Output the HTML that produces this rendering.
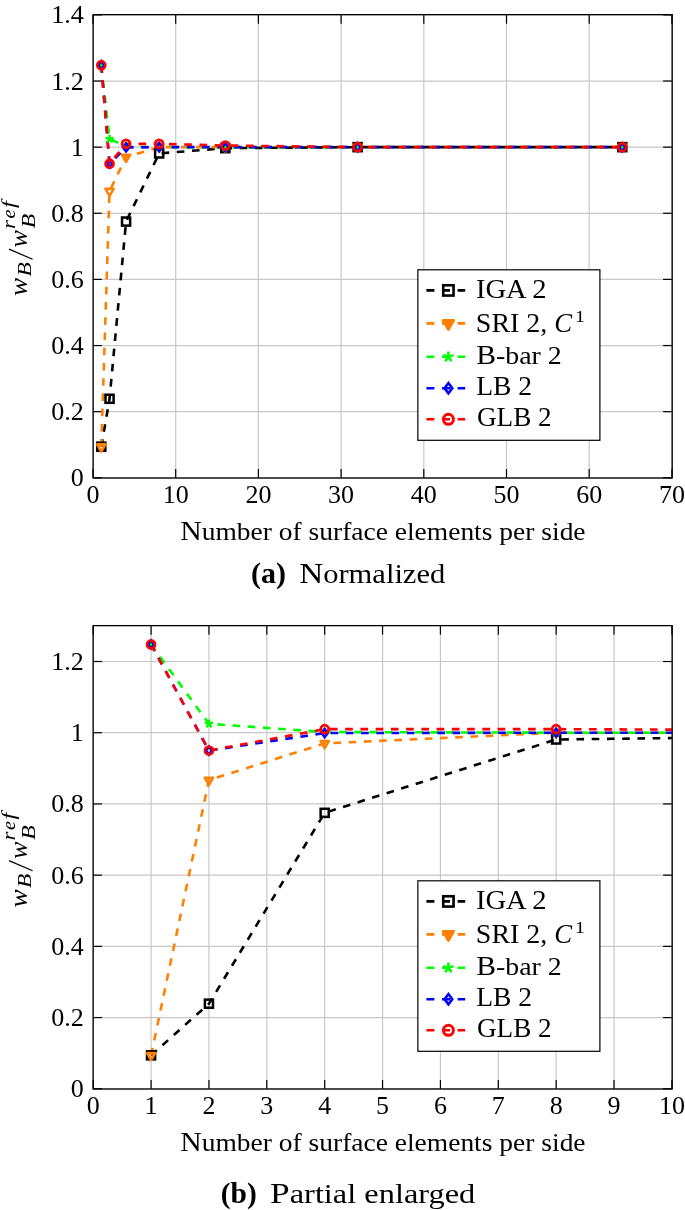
<!DOCTYPE html>
<html><head><meta charset="utf-8"><style>
html,body{margin:0;padding:0;background:#fff;width:685px;height:1210px;overflow:hidden}
svg{display:block;will-change:transform}
text{font-family:"Liberation Serif",serif}
</style></head><body>
<svg width="685" height="1210" viewBox="0 0 685 1210" font-family="Liberation Serif" fill="#000">
<defs><clipPath id="ca"><rect x="93.0" y="14.9" width="578.90" height="462.90"/></clipPath><clipPath id="cb"><rect x="93.2" y="625.9" width="578.70" height="462.90"/></clipPath></defs>
<line x1="93.00" y1="14.9" x2="93.00" y2="477.8" stroke="#c8c8c8" stroke-width="1.2"/>
<line x1="175.70" y1="14.9" x2="175.70" y2="477.8" stroke="#c8c8c8" stroke-width="1.2"/>
<line x1="258.40" y1="14.9" x2="258.40" y2="477.8" stroke="#c8c8c8" stroke-width="1.2"/>
<line x1="341.10" y1="14.9" x2="341.10" y2="477.8" stroke="#c8c8c8" stroke-width="1.2"/>
<line x1="423.80" y1="14.9" x2="423.80" y2="477.8" stroke="#c8c8c8" stroke-width="1.2"/>
<line x1="506.50" y1="14.9" x2="506.50" y2="477.8" stroke="#c8c8c8" stroke-width="1.2"/>
<line x1="589.20" y1="14.9" x2="589.20" y2="477.8" stroke="#c8c8c8" stroke-width="1.2"/>
<line x1="671.90" y1="14.9" x2="671.90" y2="477.8" stroke="#c8c8c8" stroke-width="1.2"/>
<line x1="93.0" y1="477.80" x2="671.9" y2="477.80" stroke="#c8c8c8" stroke-width="1.2"/>
<line x1="93.0" y1="411.67" x2="671.9" y2="411.67" stroke="#c8c8c8" stroke-width="1.2"/>
<line x1="93.0" y1="345.54" x2="671.9" y2="345.54" stroke="#c8c8c8" stroke-width="1.2"/>
<line x1="93.0" y1="279.41" x2="671.9" y2="279.41" stroke="#c8c8c8" stroke-width="1.2"/>
<line x1="93.0" y1="213.29" x2="671.9" y2="213.29" stroke="#c8c8c8" stroke-width="1.2"/>
<line x1="93.0" y1="147.16" x2="671.9" y2="147.16" stroke="#c8c8c8" stroke-width="1.2"/>
<line x1="93.0" y1="81.03" x2="671.9" y2="81.03" stroke="#c8c8c8" stroke-width="1.2"/>
<line x1="93.0" y1="14.90" x2="671.9" y2="14.90" stroke="#c8c8c8" stroke-width="1.2"/>
<line x1="93.00" y1="477.8" x2="93.00" y2="469.00" stroke="#000000" stroke-width="1.2"/>
<line x1="93.00" y1="14.9" x2="93.00" y2="23.70" stroke="#000000" stroke-width="1.2"/>
<line x1="175.70" y1="477.8" x2="175.70" y2="469.00" stroke="#000000" stroke-width="1.2"/>
<line x1="175.70" y1="14.9" x2="175.70" y2="23.70" stroke="#000000" stroke-width="1.2"/>
<line x1="258.40" y1="477.8" x2="258.40" y2="469.00" stroke="#000000" stroke-width="1.2"/>
<line x1="258.40" y1="14.9" x2="258.40" y2="23.70" stroke="#000000" stroke-width="1.2"/>
<line x1="341.10" y1="477.8" x2="341.10" y2="469.00" stroke="#000000" stroke-width="1.2"/>
<line x1="341.10" y1="14.9" x2="341.10" y2="23.70" stroke="#000000" stroke-width="1.2"/>
<line x1="423.80" y1="477.8" x2="423.80" y2="469.00" stroke="#000000" stroke-width="1.2"/>
<line x1="423.80" y1="14.9" x2="423.80" y2="23.70" stroke="#000000" stroke-width="1.2"/>
<line x1="506.50" y1="477.8" x2="506.50" y2="469.00" stroke="#000000" stroke-width="1.2"/>
<line x1="506.50" y1="14.9" x2="506.50" y2="23.70" stroke="#000000" stroke-width="1.2"/>
<line x1="589.20" y1="477.8" x2="589.20" y2="469.00" stroke="#000000" stroke-width="1.2"/>
<line x1="589.20" y1="14.9" x2="589.20" y2="23.70" stroke="#000000" stroke-width="1.2"/>
<line x1="671.90" y1="477.8" x2="671.90" y2="469.00" stroke="#000000" stroke-width="1.2"/>
<line x1="671.90" y1="14.9" x2="671.90" y2="23.70" stroke="#000000" stroke-width="1.2"/>
<line x1="93.0" y1="477.80" x2="101.80" y2="477.80" stroke="#000000" stroke-width="1.2"/>
<line x1="671.9" y1="477.80" x2="663.10" y2="477.80" stroke="#000000" stroke-width="1.2"/>
<line x1="93.0" y1="411.67" x2="101.80" y2="411.67" stroke="#000000" stroke-width="1.2"/>
<line x1="671.9" y1="411.67" x2="663.10" y2="411.67" stroke="#000000" stroke-width="1.2"/>
<line x1="93.0" y1="345.54" x2="101.80" y2="345.54" stroke="#000000" stroke-width="1.2"/>
<line x1="671.9" y1="345.54" x2="663.10" y2="345.54" stroke="#000000" stroke-width="1.2"/>
<line x1="93.0" y1="279.41" x2="101.80" y2="279.41" stroke="#000000" stroke-width="1.2"/>
<line x1="671.9" y1="279.41" x2="663.10" y2="279.41" stroke="#000000" stroke-width="1.2"/>
<line x1="93.0" y1="213.29" x2="101.80" y2="213.29" stroke="#000000" stroke-width="1.2"/>
<line x1="671.9" y1="213.29" x2="663.10" y2="213.29" stroke="#000000" stroke-width="1.2"/>
<line x1="93.0" y1="147.16" x2="101.80" y2="147.16" stroke="#000000" stroke-width="1.2"/>
<line x1="671.9" y1="147.16" x2="663.10" y2="147.16" stroke="#000000" stroke-width="1.2"/>
<line x1="93.0" y1="81.03" x2="101.80" y2="81.03" stroke="#000000" stroke-width="1.2"/>
<line x1="671.9" y1="81.03" x2="663.10" y2="81.03" stroke="#000000" stroke-width="1.2"/>
<line x1="93.0" y1="14.90" x2="101.80" y2="14.90" stroke="#000000" stroke-width="1.2"/>
<line x1="671.9" y1="14.90" x2="663.10" y2="14.90" stroke="#000000" stroke-width="1.2"/>
<g clip-path="url(#ca)">
<polyline points="101.27,446.72 109.54,398.78 126.08,221.55 159.16,153.44" fill="none" stroke="#000000" stroke-width="2.6" stroke-dasharray="7.62 7.62" stroke-dashoffset="0.00"/>
<polyline points="159.16,153.44 225.32,148.15" fill="none" stroke="#000000" stroke-width="2.6" stroke-dasharray="7.62 7.62" stroke-dashoffset="12.81"/>
<polyline points="225.32,148.15 357.64,147.16 622.28,147.16" fill="none" stroke="#000000" stroke-width="2.6" stroke-dasharray="7.62 7.62" stroke-dashoffset="0.94"/>
<polyline points="101.27,446.72 109.54,191.13 126.08,157.08 159.16,147.16" fill="none" stroke="#ff8000" stroke-width="2.6" stroke-dasharray="7.62 7.62" stroke-dashoffset="0.00"/>
<polyline points="159.16,147.16 225.32,147.16" fill="none" stroke="#ff8000" stroke-width="2.6" stroke-dasharray="7.62 7.62" stroke-dashoffset="8.64"/>
<polyline points="225.32,147.16 357.64,147.16 622.28,147.16" fill="none" stroke="#ff8000" stroke-width="2.6" stroke-dasharray="7.62 7.62" stroke-dashoffset="8.18"/>
<polyline points="101.27,65.16 109.54,138.89 126.08,146.50 159.16,147.16" fill="none" stroke="#00ff00" stroke-width="2.6" stroke-dasharray="7.62 7.62" stroke-dashoffset="0.00"/>
<polyline points="159.16,147.16 225.32,147.16" fill="none" stroke="#00ff00" stroke-width="2.6" stroke-dasharray="7.62 7.62" stroke-dashoffset="3.57"/>
<polyline points="225.32,147.16 357.64,147.16 622.28,147.16" fill="none" stroke="#00ff00" stroke-width="2.6" stroke-dasharray="7.62 7.62" stroke-dashoffset="8.18"/>
<polyline points="101.27,65.16 109.54,163.69 126.08,147.49 159.16,147.16" fill="none" stroke="#0000ff" stroke-width="2.6" stroke-dasharray="7.62 7.62" stroke-dashoffset="0.00"/>
<polyline points="159.16,147.16 225.32,147.16" fill="none" stroke="#0000ff" stroke-width="2.6" stroke-dasharray="7.62 7.62" stroke-dashoffset="2.71"/>
<polyline points="225.32,147.16 357.64,147.16 622.28,147.16" fill="none" stroke="#0000ff" stroke-width="2.6" stroke-dasharray="7.62 7.62" stroke-dashoffset="6.64"/>
<polyline points="101.27,65.16 109.54,163.69 126.08,143.85 159.16,143.85" fill="none" stroke="#ff0000" stroke-width="2.6" stroke-dasharray="7.62 7.62" stroke-dashoffset="0.00"/>
<polyline points="159.16,143.85 225.32,145.50" fill="none" stroke="#ff0000" stroke-width="2.6" stroke-dasharray="7.62 7.62" stroke-dashoffset="5.39"/>
<polyline points="225.32,145.50 357.64,147.16 622.28,147.16" fill="none" stroke="#ff0000" stroke-width="2.6" stroke-dasharray="7.62 7.62" stroke-dashoffset="9.83"/>
<rect x="97.22" y="442.67" width="8.10" height="8.10" fill="none" stroke="#000000" stroke-width="2.50"/>
<rect x="105.49" y="394.73" width="8.10" height="8.10" fill="none" stroke="#000000" stroke-width="2.50"/>
<rect x="122.03" y="217.50" width="8.10" height="8.10" fill="none" stroke="#000000" stroke-width="2.50"/>
<rect x="155.11" y="149.39" width="8.10" height="8.10" fill="none" stroke="#000000" stroke-width="2.50"/>
<rect x="221.27" y="144.10" width="8.10" height="8.10" fill="none" stroke="#000000" stroke-width="2.50"/>
<rect x="353.59" y="143.11" width="8.10" height="8.10" fill="none" stroke="#000000" stroke-width="2.50"/>
<rect x="618.23" y="143.11" width="8.10" height="8.10" fill="none" stroke="#000000" stroke-width="2.50"/>
<polygon points="101.27,451.58 97.06,444.29 105.48,444.29" fill="none" stroke="#ff8000" stroke-width="2.50" stroke-linejoin="round"/>
<polygon points="109.54,195.99 105.33,188.70 113.75,188.70" fill="none" stroke="#ff8000" stroke-width="2.50" stroke-linejoin="round"/>
<polygon points="126.08,161.94 121.87,154.65 130.29,154.65" fill="none" stroke="#ff8000" stroke-width="2.50" stroke-linejoin="round"/>
<polygon points="159.16,152.02 154.95,144.73 163.37,144.73" fill="none" stroke="#ff8000" stroke-width="2.50" stroke-linejoin="round"/>
<polygon points="225.32,152.02 221.11,144.73 229.53,144.73" fill="none" stroke="#ff8000" stroke-width="2.50" stroke-linejoin="round"/>
<polygon points="357.64,152.02 353.43,144.73 361.85,144.73" fill="none" stroke="#ff8000" stroke-width="2.50" stroke-linejoin="round"/>
<polygon points="622.28,152.02 618.07,144.73 626.49,144.73" fill="none" stroke="#ff8000" stroke-width="2.50" stroke-linejoin="round"/>
<path d="M101.27,65.16L101.27,60.91M101.27,65.16L97.23,63.84M101.27,65.16L98.77,68.60M101.27,65.16L103.77,68.60M101.27,65.16L105.31,63.84" stroke="#00ff00" stroke-width="2.50" fill="none"/>
<path d="M109.54,138.89L109.54,134.64M109.54,138.89L105.50,137.58M109.54,138.89L107.04,142.33M109.54,138.89L112.04,142.33M109.54,138.89L113.58,137.58" stroke="#00ff00" stroke-width="2.50" fill="none"/>
<path d="M126.08,146.50L126.08,142.24M126.08,146.50L122.04,145.18M126.08,146.50L123.58,149.94M126.08,146.50L128.58,149.94M126.08,146.50L130.12,145.18" stroke="#00ff00" stroke-width="2.50" fill="none"/>
<path d="M159.16,147.16L159.16,142.90M159.16,147.16L155.12,145.84M159.16,147.16L156.66,150.60M159.16,147.16L161.66,150.60M159.16,147.16L163.20,145.84" stroke="#00ff00" stroke-width="2.50" fill="none"/>
<path d="M225.32,147.16L225.32,142.90M225.32,147.16L221.28,145.84M225.32,147.16L222.82,150.60M225.32,147.16L227.82,150.60M225.32,147.16L229.36,145.84" stroke="#00ff00" stroke-width="2.50" fill="none"/>
<path d="M357.64,147.16L357.64,142.90M357.64,147.16L353.60,145.84M357.64,147.16L355.14,150.60M357.64,147.16L360.14,150.60M357.64,147.16L361.68,145.84" stroke="#00ff00" stroke-width="2.50" fill="none"/>
<path d="M622.28,147.16L622.28,142.90M622.28,147.16L618.24,145.84M622.28,147.16L619.78,150.60M622.28,147.16L624.78,150.60M622.28,147.16L626.32,145.84" stroke="#00ff00" stroke-width="2.50" fill="none"/>
<polygon points="101.27,61.11 104.31,65.16 101.27,69.21 98.23,65.16" fill="none" stroke="#0000ff" stroke-width="2.50"/>
<polygon points="109.54,159.64 112.58,163.69 109.54,167.74 106.50,163.69" fill="none" stroke="#0000ff" stroke-width="2.50"/>
<polygon points="126.08,143.44 129.12,147.49 126.08,151.54 123.04,147.49" fill="none" stroke="#0000ff" stroke-width="2.50"/>
<polygon points="159.16,143.11 162.20,147.16 159.16,151.21 156.12,147.16" fill="none" stroke="#0000ff" stroke-width="2.50"/>
<polygon points="225.32,143.11 228.36,147.16 225.32,151.21 222.28,147.16" fill="none" stroke="#0000ff" stroke-width="2.50"/>
<polygon points="357.64,143.11 360.68,147.16 357.64,151.21 354.60,147.16" fill="none" stroke="#0000ff" stroke-width="2.50"/>
<polygon points="622.28,143.11 625.32,147.16 622.28,151.21 619.24,147.16" fill="none" stroke="#0000ff" stroke-width="2.50"/>
<circle cx="101.27" cy="65.16" r="3.95" fill="none" stroke="#ff0000" stroke-width="2.80"/>
<circle cx="109.54" cy="163.69" r="3.95" fill="none" stroke="#ff0000" stroke-width="2.80"/>
<circle cx="126.08" cy="143.85" r="3.95" fill="none" stroke="#ff0000" stroke-width="2.80"/>
<circle cx="159.16" cy="143.85" r="3.95" fill="none" stroke="#ff0000" stroke-width="2.80"/>
<circle cx="225.32" cy="145.50" r="3.95" fill="none" stroke="#ff0000" stroke-width="2.80"/>
<circle cx="357.64" cy="147.16" r="3.95" fill="none" stroke="#ff0000" stroke-width="2.80"/>
<circle cx="622.28" cy="147.16" r="3.95" fill="none" stroke="#ff0000" stroke-width="2.80"/>
</g>
<rect x="93.15" y="14.64" width="579.05" height="463.36" fill="none" stroke="#000000" stroke-width="1.3"/>
<text x="93.00" y="503.10" font-size="26" text-anchor="middle" >0</text>
<text x="175.70" y="503.10" font-size="26" text-anchor="middle" >10</text>
<text x="258.40" y="503.10" font-size="26" text-anchor="middle" >20</text>
<text x="341.10" y="503.10" font-size="26" text-anchor="middle" >30</text>
<text x="423.80" y="503.10" font-size="26" text-anchor="middle" >40</text>
<text x="506.50" y="503.10" font-size="26" text-anchor="middle" >50</text>
<text x="589.20" y="503.10" font-size="26" text-anchor="middle" >60</text>
<text x="671.90" y="503.10" font-size="26" text-anchor="middle" >70</text>
<text x="83.70" y="486.30" font-size="26" text-anchor="end" >0</text>
<text x="83.70" y="420.17" font-size="26" text-anchor="end" >0.2</text>
<text x="83.70" y="354.04" font-size="26" text-anchor="end" >0.4</text>
<text x="83.70" y="287.91" font-size="26" text-anchor="end" >0.6</text>
<text x="83.70" y="221.79" font-size="26" text-anchor="end" >0.8</text>
<text x="83.70" y="155.66" font-size="26" text-anchor="end" >1</text>
<text x="83.70" y="89.53" font-size="26" text-anchor="end" >1.2</text>
<text x="83.70" y="23.40" font-size="26" text-anchor="end" >1.4</text>
<rect x="417.85" y="269.80" width="182.05" height="170.5" fill="#fff" stroke="#000000" stroke-width="1.2"/>
<line x1="426.4" y1="290.40" x2="465.2" y2="290.40" stroke="#000000" stroke-width="2.6" stroke-dasharray="8 7.6"/>
<rect x="443.25" y="285.25" width="10.30" height="10.30" fill="none" stroke="#000000" stroke-width="2.60"/>
<line x1="426.4" y1="323.40" x2="465.2" y2="323.40" stroke="#ff8000" stroke-width="2.6" stroke-dasharray="8 7.6"/>
<polygon points="448.40,329.58 443.05,320.31 453.75,320.31" fill="#ff8000" stroke="#ff8000" stroke-width="2.60" stroke-linejoin="round"/>
<line x1="426.4" y1="356.80" x2="465.2" y2="356.80" stroke="#00ff00" stroke-width="2.6" stroke-dasharray="8 7.6"/>
<path d="M448.40,356.80L448.40,351.39M448.40,356.80L443.26,355.13M448.40,356.80L445.22,361.17M448.40,356.80L451.58,361.17M448.40,356.80L453.54,355.13" stroke="#00ff00" stroke-width="2.60" fill="none"/>
<line x1="426.4" y1="388.20" x2="465.2" y2="388.20" stroke="#0000ff" stroke-width="2.6" stroke-dasharray="8 7.6"/>
<polygon points="448.40,383.05 452.26,388.20 448.40,393.35 444.54,388.20" fill="none" stroke="#0000ff" stroke-width="2.60"/>
<line x1="426.4" y1="419.30" x2="465.2" y2="419.30" stroke="#ff0000" stroke-width="2.6" stroke-dasharray="8 7.6"/>
<circle cx="448.40" cy="419.30" r="5.02" fill="none" stroke="#ff0000" stroke-width="2.91"/>
<text x="475.92" y="297.80" font-size="26.6"  textLength="70.79" lengthAdjust="spacingAndGlyphs">IGA 2</text>
<text x="475.86" y="331.50" font-size="26.6"  textLength="71.36" lengthAdjust="spacingAndGlyphs">SRI 2,</text>
<text x="554.29" y="331.50" font-size="26.6" font-style="italic" textLength="17.86" lengthAdjust="spacingAndGlyphs">C</text>
<text x="575.00" y="322.40" font-size="17.5"  textLength="9.94" lengthAdjust="spacingAndGlyphs">1</text>
<text x="476.16" y="363.80" font-size="25.0"  textLength="85.61" lengthAdjust="spacingAndGlyphs"><tspan font-size="26.6">B</tspan>-bar 2</text>
<text x="476.22" y="394.70" font-size="26.6"  textLength="55.87" lengthAdjust="spacingAndGlyphs">LB 2</text>
<text x="476.98" y="425.60" font-size="26.6"  textLength="74.74" lengthAdjust="spacingAndGlyphs">GLB 2</text>
<line x1="93.20" y1="625.9" x2="93.20" y2="1088.8" stroke="#c8c8c8" stroke-width="1.2"/>
<line x1="151.07" y1="625.9" x2="151.07" y2="1088.8" stroke="#c8c8c8" stroke-width="1.2"/>
<line x1="208.94" y1="625.9" x2="208.94" y2="1088.8" stroke="#c8c8c8" stroke-width="1.2"/>
<line x1="266.81" y1="625.9" x2="266.81" y2="1088.8" stroke="#c8c8c8" stroke-width="1.2"/>
<line x1="324.68" y1="625.9" x2="324.68" y2="1088.8" stroke="#c8c8c8" stroke-width="1.2"/>
<line x1="382.55" y1="625.9" x2="382.55" y2="1088.8" stroke="#c8c8c8" stroke-width="1.2"/>
<line x1="440.42" y1="625.9" x2="440.42" y2="1088.8" stroke="#c8c8c8" stroke-width="1.2"/>
<line x1="498.29" y1="625.9" x2="498.29" y2="1088.8" stroke="#c8c8c8" stroke-width="1.2"/>
<line x1="556.16" y1="625.9" x2="556.16" y2="1088.8" stroke="#c8c8c8" stroke-width="1.2"/>
<line x1="614.03" y1="625.9" x2="614.03" y2="1088.8" stroke="#c8c8c8" stroke-width="1.2"/>
<line x1="671.90" y1="625.9" x2="671.90" y2="1088.8" stroke="#c8c8c8" stroke-width="1.2"/>
<line x1="93.2" y1="1088.80" x2="671.9" y2="1088.80" stroke="#c8c8c8" stroke-width="1.2"/>
<line x1="93.2" y1="1017.58" x2="671.9" y2="1017.58" stroke="#c8c8c8" stroke-width="1.2"/>
<line x1="93.2" y1="946.37" x2="671.9" y2="946.37" stroke="#c8c8c8" stroke-width="1.2"/>
<line x1="93.2" y1="875.15" x2="671.9" y2="875.15" stroke="#c8c8c8" stroke-width="1.2"/>
<line x1="93.2" y1="803.94" x2="671.9" y2="803.94" stroke="#c8c8c8" stroke-width="1.2"/>
<line x1="93.2" y1="732.72" x2="671.9" y2="732.72" stroke="#c8c8c8" stroke-width="1.2"/>
<line x1="93.2" y1="661.51" x2="671.9" y2="661.51" stroke="#c8c8c8" stroke-width="1.2"/>
<line x1="93.20" y1="1088.8" x2="93.20" y2="1080.00" stroke="#000000" stroke-width="1.2"/>
<line x1="93.20" y1="625.9" x2="93.20" y2="634.70" stroke="#000000" stroke-width="1.2"/>
<line x1="151.07" y1="1088.8" x2="151.07" y2="1080.00" stroke="#000000" stroke-width="1.2"/>
<line x1="151.07" y1="625.9" x2="151.07" y2="634.70" stroke="#000000" stroke-width="1.2"/>
<line x1="208.94" y1="1088.8" x2="208.94" y2="1080.00" stroke="#000000" stroke-width="1.2"/>
<line x1="208.94" y1="625.9" x2="208.94" y2="634.70" stroke="#000000" stroke-width="1.2"/>
<line x1="266.81" y1="1088.8" x2="266.81" y2="1080.00" stroke="#000000" stroke-width="1.2"/>
<line x1="266.81" y1="625.9" x2="266.81" y2="634.70" stroke="#000000" stroke-width="1.2"/>
<line x1="324.68" y1="1088.8" x2="324.68" y2="1080.00" stroke="#000000" stroke-width="1.2"/>
<line x1="324.68" y1="625.9" x2="324.68" y2="634.70" stroke="#000000" stroke-width="1.2"/>
<line x1="382.55" y1="1088.8" x2="382.55" y2="1080.00" stroke="#000000" stroke-width="1.2"/>
<line x1="382.55" y1="625.9" x2="382.55" y2="634.70" stroke="#000000" stroke-width="1.2"/>
<line x1="440.42" y1="1088.8" x2="440.42" y2="1080.00" stroke="#000000" stroke-width="1.2"/>
<line x1="440.42" y1="625.9" x2="440.42" y2="634.70" stroke="#000000" stroke-width="1.2"/>
<line x1="498.29" y1="1088.8" x2="498.29" y2="1080.00" stroke="#000000" stroke-width="1.2"/>
<line x1="498.29" y1="625.9" x2="498.29" y2="634.70" stroke="#000000" stroke-width="1.2"/>
<line x1="556.16" y1="1088.8" x2="556.16" y2="1080.00" stroke="#000000" stroke-width="1.2"/>
<line x1="556.16" y1="625.9" x2="556.16" y2="634.70" stroke="#000000" stroke-width="1.2"/>
<line x1="614.03" y1="1088.8" x2="614.03" y2="1080.00" stroke="#000000" stroke-width="1.2"/>
<line x1="614.03" y1="625.9" x2="614.03" y2="634.70" stroke="#000000" stroke-width="1.2"/>
<line x1="671.90" y1="1088.8" x2="671.90" y2="1080.00" stroke="#000000" stroke-width="1.2"/>
<line x1="671.90" y1="625.9" x2="671.90" y2="634.70" stroke="#000000" stroke-width="1.2"/>
<line x1="93.2" y1="1088.80" x2="102.00" y2="1088.80" stroke="#000000" stroke-width="1.2"/>
<line x1="671.9" y1="1088.80" x2="663.10" y2="1088.80" stroke="#000000" stroke-width="1.2"/>
<line x1="93.2" y1="1017.58" x2="102.00" y2="1017.58" stroke="#000000" stroke-width="1.2"/>
<line x1="671.9" y1="1017.58" x2="663.10" y2="1017.58" stroke="#000000" stroke-width="1.2"/>
<line x1="93.2" y1="946.37" x2="102.00" y2="946.37" stroke="#000000" stroke-width="1.2"/>
<line x1="671.9" y1="946.37" x2="663.10" y2="946.37" stroke="#000000" stroke-width="1.2"/>
<line x1="93.2" y1="875.15" x2="102.00" y2="875.15" stroke="#000000" stroke-width="1.2"/>
<line x1="671.9" y1="875.15" x2="663.10" y2="875.15" stroke="#000000" stroke-width="1.2"/>
<line x1="93.2" y1="803.94" x2="102.00" y2="803.94" stroke="#000000" stroke-width="1.2"/>
<line x1="671.9" y1="803.94" x2="663.10" y2="803.94" stroke="#000000" stroke-width="1.2"/>
<line x1="93.2" y1="732.72" x2="102.00" y2="732.72" stroke="#000000" stroke-width="1.2"/>
<line x1="671.9" y1="732.72" x2="663.10" y2="732.72" stroke="#000000" stroke-width="1.2"/>
<line x1="93.2" y1="661.51" x2="102.00" y2="661.51" stroke="#000000" stroke-width="1.2"/>
<line x1="671.9" y1="661.51" x2="663.10" y2="661.51" stroke="#000000" stroke-width="1.2"/>
<g clip-path="url(#cb)">
<polyline points="151.07,1055.33 208.94,1003.70 324.68,812.84 556.16,739.49" fill="none" stroke="#000000" stroke-width="2.6" stroke-dasharray="7.62 7.62" stroke-dashoffset="0.00"/>
<polyline points="556.16,739.49 1019.12,733.79" fill="none" stroke="#000000" stroke-width="2.6" stroke-dasharray="7.62 7.62" stroke-dashoffset="10.19"/>
<polyline points="1019.12,733.79 1945.04,732.72 3796.88,732.72" fill="none" stroke="#000000" stroke-width="2.6" stroke-dasharray="7.62 7.62" stroke-dashoffset="0.74"/>
<polyline points="151.07,1055.33 208.94,780.08 324.68,743.41 556.16,732.72" fill="none" stroke="#ff8000" stroke-width="2.6" stroke-dasharray="7.62 7.62" stroke-dashoffset="0.00"/>
<polyline points="556.16,732.72 1019.12,732.72" fill="none" stroke="#ff8000" stroke-width="2.6" stroke-dasharray="7.62 7.62" stroke-dashoffset="9.56"/>
<polyline points="1019.12,732.72 1945.04,732.72 3796.88,732.72" fill="none" stroke="#ff8000" stroke-width="2.6" stroke-dasharray="7.62 7.62" stroke-dashoffset="0.08"/>
<polyline points="151.07,644.42 208.94,723.82 324.68,732.01 556.16,732.72" fill="none" stroke="#00ff00" stroke-width="2.6" stroke-dasharray="7.62 7.62" stroke-dashoffset="0.00"/>
<polyline points="556.16,732.72 1019.12,732.72" fill="none" stroke="#00ff00" stroke-width="2.6" stroke-dasharray="7.62 7.62" stroke-dashoffset="3.81"/>
<polyline points="1019.12,732.72 1945.04,732.72 3796.88,732.72" fill="none" stroke="#00ff00" stroke-width="2.6" stroke-dasharray="7.62 7.62" stroke-dashoffset="9.57"/>
<polyline points="151.07,644.42 208.94,750.53 324.68,733.08 556.16,732.72" fill="none" stroke="#0000ff" stroke-width="2.6" stroke-dasharray="7.62 7.62" stroke-dashoffset="0.00"/>
<polyline points="556.16,732.72 1019.12,732.72" fill="none" stroke="#0000ff" stroke-width="2.6" stroke-dasharray="7.62 7.62" stroke-dashoffset="12.19"/>
<polyline points="1019.12,732.72 1945.04,732.72 3796.88,732.72" fill="none" stroke="#0000ff" stroke-width="2.6" stroke-dasharray="7.62 7.62" stroke-dashoffset="2.71"/>
<polyline points="151.07,644.42 208.94,750.53 324.68,729.16 556.16,729.16" fill="none" stroke="#ff0000" stroke-width="2.6" stroke-dasharray="7.62 7.62" stroke-dashoffset="0.00"/>
<polyline points="556.16,729.16 1019.12,730.94" fill="none" stroke="#ff0000" stroke-width="2.6" stroke-dasharray="7.62 7.62" stroke-dashoffset="12.84"/>
<polyline points="1019.12,730.94 1945.04,732.72 3796.88,732.72" fill="none" stroke="#ff0000" stroke-width="2.6" stroke-dasharray="7.62 7.62" stroke-dashoffset="3.36"/>
<rect x="147.02" y="1051.28" width="8.10" height="8.10" fill="none" stroke="#000000" stroke-width="2.50"/>
<rect x="204.89" y="999.65" width="8.10" height="8.10" fill="none" stroke="#000000" stroke-width="2.50"/>
<rect x="320.63" y="808.79" width="8.10" height="8.10" fill="none" stroke="#000000" stroke-width="2.50"/>
<rect x="552.11" y="735.44" width="8.10" height="8.10" fill="none" stroke="#000000" stroke-width="2.50"/>
<rect x="1015.07" y="729.74" width="8.10" height="8.10" fill="none" stroke="#000000" stroke-width="2.50"/>
<rect x="1940.99" y="728.67" width="8.10" height="8.10" fill="none" stroke="#000000" stroke-width="2.50"/>
<rect x="3792.83" y="728.67" width="8.10" height="8.10" fill="none" stroke="#000000" stroke-width="2.50"/>
<polygon points="151.07,1060.19 146.86,1052.90 155.28,1052.90" fill="none" stroke="#ff8000" stroke-width="2.50" stroke-linejoin="round"/>
<polygon points="208.94,784.94 204.73,777.65 213.15,777.65" fill="none" stroke="#ff8000" stroke-width="2.50" stroke-linejoin="round"/>
<polygon points="324.68,748.27 320.47,740.98 328.89,740.98" fill="none" stroke="#ff8000" stroke-width="2.50" stroke-linejoin="round"/>
<polygon points="556.16,737.58 551.95,730.29 560.37,730.29" fill="none" stroke="#ff8000" stroke-width="2.50" stroke-linejoin="round"/>
<polygon points="1019.12,737.58 1014.91,730.29 1023.33,730.29" fill="none" stroke="#ff8000" stroke-width="2.50" stroke-linejoin="round"/>
<polygon points="1945.04,737.58 1940.83,730.29 1949.25,730.29" fill="none" stroke="#ff8000" stroke-width="2.50" stroke-linejoin="round"/>
<polygon points="3796.88,737.58 3792.67,730.29 3801.09,730.29" fill="none" stroke="#ff8000" stroke-width="2.50" stroke-linejoin="round"/>
<path d="M151.07,644.42L151.07,640.16M151.07,644.42L147.03,643.10M151.07,644.42L148.57,647.86M151.07,644.42L153.57,647.86M151.07,644.42L155.11,643.10" stroke="#00ff00" stroke-width="2.50" fill="none"/>
<path d="M208.94,723.82L208.94,719.57M208.94,723.82L204.90,722.51M208.94,723.82L206.44,727.26M208.94,723.82L211.44,727.26M208.94,723.82L212.98,722.51" stroke="#00ff00" stroke-width="2.50" fill="none"/>
<path d="M324.68,732.01L324.68,727.76M324.68,732.01L320.64,730.70M324.68,732.01L322.18,735.45M324.68,732.01L327.18,735.45M324.68,732.01L328.72,730.70" stroke="#00ff00" stroke-width="2.50" fill="none"/>
<path d="M556.16,732.72L556.16,728.47M556.16,732.72L552.12,731.41M556.16,732.72L553.66,736.16M556.16,732.72L558.66,736.16M556.16,732.72L560.20,731.41" stroke="#00ff00" stroke-width="2.50" fill="none"/>
<path d="M1019.12,732.72L1019.12,728.47M1019.12,732.72L1015.08,731.41M1019.12,732.72L1016.62,736.16M1019.12,732.72L1021.62,736.16M1019.12,732.72L1023.16,731.41" stroke="#00ff00" stroke-width="2.50" fill="none"/>
<path d="M1945.04,732.72L1945.04,728.47M1945.04,732.72L1941.00,731.41M1945.04,732.72L1942.54,736.16M1945.04,732.72L1947.54,736.16M1945.04,732.72L1949.08,731.41" stroke="#00ff00" stroke-width="2.50" fill="none"/>
<path d="M3796.88,732.72L3796.88,728.47M3796.88,732.72L3792.84,731.41M3796.88,732.72L3794.38,736.16M3796.88,732.72L3799.38,736.16M3796.88,732.72L3800.92,731.41" stroke="#00ff00" stroke-width="2.50" fill="none"/>
<polygon points="151.07,640.37 154.11,644.42 151.07,648.47 148.03,644.42" fill="none" stroke="#0000ff" stroke-width="2.50"/>
<polygon points="208.94,746.48 211.98,750.53 208.94,754.58 205.90,750.53" fill="none" stroke="#0000ff" stroke-width="2.50"/>
<polygon points="324.68,729.03 327.72,733.08 324.68,737.13 321.64,733.08" fill="none" stroke="#0000ff" stroke-width="2.50"/>
<polygon points="556.16,728.67 559.20,732.72 556.16,736.77 553.12,732.72" fill="none" stroke="#0000ff" stroke-width="2.50"/>
<polygon points="1019.12,728.67 1022.16,732.72 1019.12,736.77 1016.08,732.72" fill="none" stroke="#0000ff" stroke-width="2.50"/>
<polygon points="1945.04,728.67 1948.08,732.72 1945.04,736.77 1942.00,732.72" fill="none" stroke="#0000ff" stroke-width="2.50"/>
<polygon points="3796.88,728.67 3799.92,732.72 3796.88,736.77 3793.84,732.72" fill="none" stroke="#0000ff" stroke-width="2.50"/>
<circle cx="151.07" cy="644.42" r="3.95" fill="none" stroke="#ff0000" stroke-width="2.80"/>
<circle cx="208.94" cy="750.53" r="3.95" fill="none" stroke="#ff0000" stroke-width="2.80"/>
<circle cx="324.68" cy="729.16" r="3.95" fill="none" stroke="#ff0000" stroke-width="2.80"/>
<circle cx="556.16" cy="729.16" r="3.95" fill="none" stroke="#ff0000" stroke-width="2.80"/>
<circle cx="1019.12" cy="730.94" r="3.95" fill="none" stroke="#ff0000" stroke-width="2.80"/>
<circle cx="1945.04" cy="732.72" r="3.95" fill="none" stroke="#ff0000" stroke-width="2.80"/>
<circle cx="3796.88" cy="732.72" r="3.95" fill="none" stroke="#ff0000" stroke-width="2.80"/>
</g>
<rect x="93.15" y="625.64" width="579.05" height="463.36" fill="none" stroke="#000000" stroke-width="1.3"/>
<text x="93.20" y="1114.10" font-size="26" text-anchor="middle" >0</text>
<text x="151.07" y="1114.10" font-size="26" text-anchor="middle" >1</text>
<text x="208.94" y="1114.10" font-size="26" text-anchor="middle" >2</text>
<text x="266.81" y="1114.10" font-size="26" text-anchor="middle" >3</text>
<text x="324.68" y="1114.10" font-size="26" text-anchor="middle" >4</text>
<text x="382.55" y="1114.10" font-size="26" text-anchor="middle" >5</text>
<text x="440.42" y="1114.10" font-size="26" text-anchor="middle" >6</text>
<text x="498.29" y="1114.10" font-size="26" text-anchor="middle" >7</text>
<text x="556.16" y="1114.10" font-size="26" text-anchor="middle" >8</text>
<text x="614.03" y="1114.10" font-size="26" text-anchor="middle" >9</text>
<text x="671.90" y="1114.10" font-size="26" text-anchor="middle" >10</text>
<text x="83.70" y="1097.30" font-size="26" text-anchor="end" >0</text>
<text x="83.70" y="1026.08" font-size="26" text-anchor="end" >0.2</text>
<text x="83.70" y="954.87" font-size="26" text-anchor="end" >0.4</text>
<text x="83.70" y="883.65" font-size="26" text-anchor="end" >0.6</text>
<text x="83.70" y="812.44" font-size="26" text-anchor="end" >0.8</text>
<text x="83.70" y="741.22" font-size="26" text-anchor="end" >1</text>
<text x="83.70" y="670.01" font-size="26" text-anchor="end" >1.2</text>
<rect x="417.85" y="880.80" width="182.05" height="170.5" fill="#fff" stroke="#000000" stroke-width="1.2"/>
<line x1="426.4" y1="901.40" x2="465.2" y2="901.40" stroke="#000000" stroke-width="2.6" stroke-dasharray="8 7.6"/>
<rect x="443.25" y="896.25" width="10.30" height="10.30" fill="none" stroke="#000000" stroke-width="2.60"/>
<line x1="426.4" y1="934.40" x2="465.2" y2="934.40" stroke="#ff8000" stroke-width="2.6" stroke-dasharray="8 7.6"/>
<polygon points="448.40,940.58 443.05,931.31 453.75,931.31" fill="#ff8000" stroke="#ff8000" stroke-width="2.60" stroke-linejoin="round"/>
<line x1="426.4" y1="967.80" x2="465.2" y2="967.80" stroke="#00ff00" stroke-width="2.6" stroke-dasharray="8 7.6"/>
<path d="M448.40,967.80L448.40,962.39M448.40,967.80L443.26,966.13M448.40,967.80L445.22,972.17M448.40,967.80L451.58,972.17M448.40,967.80L453.54,966.13" stroke="#00ff00" stroke-width="2.60" fill="none"/>
<line x1="426.4" y1="999.20" x2="465.2" y2="999.20" stroke="#0000ff" stroke-width="2.6" stroke-dasharray="8 7.6"/>
<polygon points="448.40,994.05 452.26,999.20 448.40,1004.35 444.54,999.20" fill="none" stroke="#0000ff" stroke-width="2.60"/>
<line x1="426.4" y1="1030.30" x2="465.2" y2="1030.30" stroke="#ff0000" stroke-width="2.6" stroke-dasharray="8 7.6"/>
<circle cx="448.40" cy="1030.30" r="5.02" fill="none" stroke="#ff0000" stroke-width="2.91"/>
<text x="475.92" y="908.80" font-size="26.6"  textLength="70.79" lengthAdjust="spacingAndGlyphs">IGA 2</text>
<text x="475.86" y="942.50" font-size="26.6"  textLength="71.36" lengthAdjust="spacingAndGlyphs">SRI 2,</text>
<text x="554.29" y="942.50" font-size="26.6" font-style="italic" textLength="17.86" lengthAdjust="spacingAndGlyphs">C</text>
<text x="575.00" y="933.40" font-size="17.5"  textLength="9.94" lengthAdjust="spacingAndGlyphs">1</text>
<text x="476.16" y="974.80" font-size="25.0"  textLength="85.61" lengthAdjust="spacingAndGlyphs"><tspan font-size="26.6">B</tspan>-bar 2</text>
<text x="476.22" y="1005.70" font-size="26.6"  textLength="55.87" lengthAdjust="spacingAndGlyphs">LB 2</text>
<text x="476.98" y="1036.60" font-size="26.6"  textLength="74.74" lengthAdjust="spacingAndGlyphs">GLB 2</text>
<g transform="translate(0,0) rotate(-90)">
<text x="-296.06" y="27.20" font-size="24.5" font-style="italic" textLength="18.16" lengthAdjust="spacingAndGlyphs">w</text>
<text x="-276.53" y="31.20" font-size="18" font-style="italic" textLength="14.38" lengthAdjust="spacingAndGlyphs">B</text>
<text x="-247.53" y="27.20" font-size="24.5" font-style="italic" textLength="17.33" lengthAdjust="spacingAndGlyphs">w</text>
<text x="-228.33" y="35.00" font-size="18" font-style="italic" textLength="14.49" lengthAdjust="spacingAndGlyphs">B</text>
<text x="-228.96" y="14.80" font-size="18" font-style="italic" textLength="8.98" lengthAdjust="spacingAndGlyphs">r</text>
<text x="-218.56" y="14.90" font-size="18" font-style="italic" textLength="9.03" lengthAdjust="spacingAndGlyphs">e</text>
<text x="-208.14" y="14.90" font-size="18" font-style="italic" textLength="6.91" lengthAdjust="spacingAndGlyphs">f</text>
</g>
<line x1="9.0" y1="249.10" x2="32.6" y2="259.30" stroke="#000" stroke-width="1.25"/>
<g transform="translate(0,611.5) rotate(-90)">
<text x="-296.06" y="27.20" font-size="24.5" font-style="italic" textLength="18.16" lengthAdjust="spacingAndGlyphs">w</text>
<text x="-276.53" y="31.20" font-size="18" font-style="italic" textLength="14.38" lengthAdjust="spacingAndGlyphs">B</text>
<text x="-247.53" y="27.20" font-size="24.5" font-style="italic" textLength="17.33" lengthAdjust="spacingAndGlyphs">w</text>
<text x="-228.33" y="35.00" font-size="18" font-style="italic" textLength="14.49" lengthAdjust="spacingAndGlyphs">B</text>
<text x="-228.96" y="14.80" font-size="18" font-style="italic" textLength="8.98" lengthAdjust="spacingAndGlyphs">r</text>
<text x="-218.56" y="14.90" font-size="18" font-style="italic" textLength="9.03" lengthAdjust="spacingAndGlyphs">e</text>
<text x="-208.14" y="14.90" font-size="18" font-style="italic" textLength="6.91" lengthAdjust="spacingAndGlyphs">f</text>
</g>
<line x1="9.0" y1="860.60" x2="32.6" y2="870.80" stroke="#000" stroke-width="1.25"/>
<text x="180.18" y="540.00" font-size="25.2"  textLength="405.41" lengthAdjust="spacingAndGlyphs"><tspan font-size="27.3">N</tspan>umber of surface elements per side</text>
<text x="180.18" y="1151.10" font-size="25.2"  textLength="405.41" lengthAdjust="spacingAndGlyphs"><tspan font-size="27.3">N</tspan>umber of surface elements per side</text>
<text x="250.95" y="582.90" font-size="30" font-weight="bold" textLength="34.98" lengthAdjust="spacingAndGlyphs">(a)</text>
<text x="299.16" y="582.90" font-size="27.2"  textLength="146.11" lengthAdjust="spacingAndGlyphs"><tspan font-size="29.6">N</tspan>ormalized</text>
<text x="220.78" y="1202.60" font-size="30" font-weight="bold" textLength="35.92" lengthAdjust="spacingAndGlyphs">(b)</text>
<text x="270.11" y="1202.60" font-size="27.2"  textLength="205.15" lengthAdjust="spacingAndGlyphs"><tspan font-size="29.6">P</tspan>artial enlarged</text>
</svg>
</body></html>
